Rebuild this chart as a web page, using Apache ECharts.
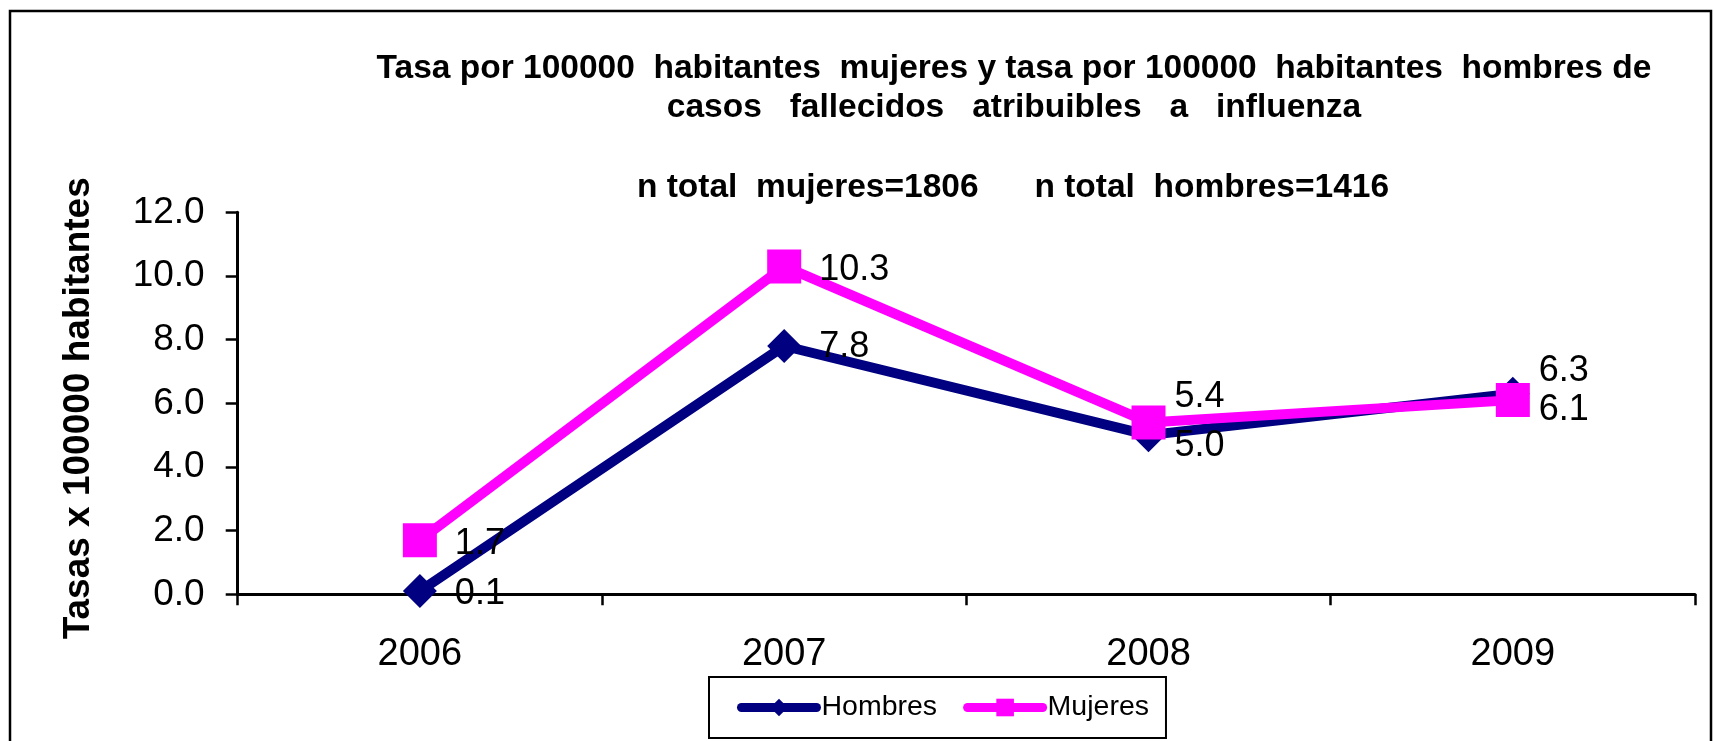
<!DOCTYPE html>
<html>
<head>
<meta charset="utf-8">
<script src="https://cdn.jsdelivr.net/npm/echarts@6/dist/echarts.min.js"></script>
<style>
  body { margin: 0; background: #fff; }
  #chart { width: 1714px; height: 741px; }
</style>
</head>
<body>
<div id="chart"></div>
<script>
// data
const years = ['2006', '2007', '2008', '2009'];
const hombres = [0.1, 7.8, 5.0, 6.3];
const mujeres = [1.7, 10.3, 5.4, 6.1];
const yMin = 0, yMax = 12, yStep = 2;

const titleMain = 'Tasa por 100000  habitantes  mujeres y tasa por 100000  habitantes  hombres de\ncasos   fallecidos   atribuibles   a   influenza';
const titleSub = 'n total  mujeres=1806      n total  hombres=1416';

// label nudges (dx, dy) so they sit like in the original
const hombresShift = [[0, 2.5], [0, 1.5], [-9, 11], [-9, -23]];
const mujeresShift = [[0, 4], [0, 3.5], [-9, -25], [-9, 9.5]];

const FONT = 'Liberation Sans, Arial, sans-serif';

function withShift(vals, shifts) {
  return vals.map((v, i) => ({ value: v, label: { offset: shifts[i] } }));
}

const labelCfg = {
  show: true,
  position: 'right',
  distance: 18,
  fontSize: 36,
  fontFamily: FONT,
  color: '#000',
  formatter: p => p.value.toFixed(1)
};

const titleStyle = { fontSize: 33.5, fontWeight: 'bold', lineHeight: 39, color: '#000', fontFamily: FONT };

const chart = echarts.init(document.getElementById('chart'));
chart.setOption({
  animation: false,
  backgroundColor: '#fff',
  title: [
    { text: titleMain, left: 1014, top: 49.5, textAlign: 'center', padding: 0, textStyle: titleStyle },
    { text: titleSub, left: 1013, top: 168, textAlign: 'center', padding: 0, textStyle: titleStyle }
  ],
  graphic: [{
    type: 'rect',
    shape: { x: 10, y: 11, width: 1701, height: 800 },
    style: { fill: 'none', stroke: '#000', lineWidth: 2.5 },
    silent: true
  }],
  legend: {
    data: ['Hombres', 'Mujeres'],
    left: 709, top: 677,
    itemWidth: 75, itemHeight: 22, itemGap: 26,
    padding: [16, 17, 16, 28],
    borderColor: '#000', borderWidth: 2,
    lineStyle: { width: 9, cap: 'round' },
    textStyle: { fontSize: 28.5, color: '#000', fontFamily: FONT }
  },
  grid: { left: 237.7, right: 19, top: 212.3, bottom: 146.7, outerBoundsMode: 'none' },
  xAxis: {
    type: 'category',
    data: years,
    boundaryGap: true,
    axisLine: { lineStyle: { color: '#000', width: 3 } },
    axisTick: { show: true, length: 11, lineStyle: { color: '#000', width: 2.5 } },
    axisLabel: { fontSize: 38, color: '#000', margin: 41.5, fontFamily: FONT }
  },
  yAxis: {
    type: 'value',
    min: yMin, max: yMax, interval: yStep,
    name: 'Tasas x 100000 habitantes',
    nameLocation: 'middle',
    nameGap: 140,
    nameRotate: 90,
    nameTextStyle: { fontSize: 37, fontWeight: 'bold', color: '#000', fontFamily: FONT, padding: [0, 10, 0, 0] },
    axisLine: { show: true, lineStyle: { color: '#000', width: 3 } },
    axisTick: { show: true, length: 12, lineStyle: { color: '#000', width: 2.5 } },
    axisLabel: { fontSize: 37, color: '#000', margin: 33, fontFamily: FONT, formatter: v => v.toFixed(1) },
    splitLine: { show: false }
  },
  series: [
    {
      name: 'Hombres',
      type: 'line',
      data: withShift(hombres, hombresShift),
      color: '#000080',
      symbol: 'diamond',
      symbolSize: 34,
      lineStyle: { width: 10, color: '#000080' },
      itemStyle: { color: '#000080' },
      label: labelCfg
    },
    {
      name: 'Mujeres',
      type: 'line',
      data: withShift(mujeres, mujeresShift),
      color: '#ff00ff',
      symbol: 'rect',
      symbolSize: 34,
      lineStyle: { width: 10, color: '#ff00ff' },
      itemStyle: { color: '#ff00ff' },
      label: labelCfg
    }
  ]
});
</script>
</body>
</html>
